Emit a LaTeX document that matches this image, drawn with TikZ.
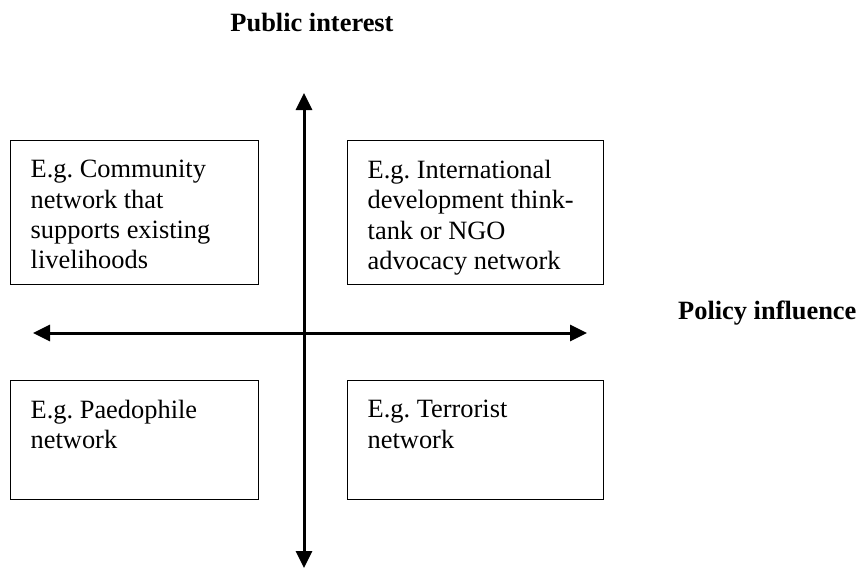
\documentclass[tikz,border=0pt]{standalone}
\usepackage{fontspec}
\setmainfont{Liberation Serif}
\usetikzlibrary{arrows.meta}
\begin{document}
\frenchspacing
\begin{tikzpicture}[x=1pt,y=-1pt,
  every node/.style={font=\fontsize{26.4}{30.4}\selectfont\frenchspacing},
  qbox/.style={draw,line width=1.4pt,anchor=north west,inner xsep=20pt,inner ysep=19.5pt},
  axis/.style={line width=3pt,{Triangle[length=17pt,width=16pt]}-{Triangle[length=17pt,width=16pt]}},
  lab/.style={font=\fontsize{26.4}{30.4}\selectfont\bfseries}]
\useasboundingbox (0,0) rectangle (859,570);
\node[qbox] (tl) at (10,140) {\parbox[t][105pt][t]{208pt}{E.g.\ Community\\network that\\supports existing\\livelihoods}};
\node[qbox] (tr) at (347,140) {\parbox[t][105pt][t]{216pt}{E.g.\ International\\development think-\\tank or NGO\\advocacy network}};
\node[qbox] (bl) at (10,380) {\parbox[t][80pt][t]{208pt}{E.g.\ Paedophile\\network}};
\node[qbox] (br) at (347,380) {\parbox[t][80pt][t]{216pt}{E.g.\ Terrorist\\network}};
\coordinate (top) at (304,93);
\coordinate (bot) at (304,568);
\coordinate (lft) at (33,333);
\coordinate (rgt) at (587,333);
\draw[axis] (top) -- (bot);
\draw[axis] (lft) -- (rgt);
\node[lab,anchor=base] (pi) at (312,31) {Public interest};
\node[lab,anchor=base west,inner sep=0pt] (pol) at (678,319) {Policy influence};
\end{tikzpicture}
\end{document}
